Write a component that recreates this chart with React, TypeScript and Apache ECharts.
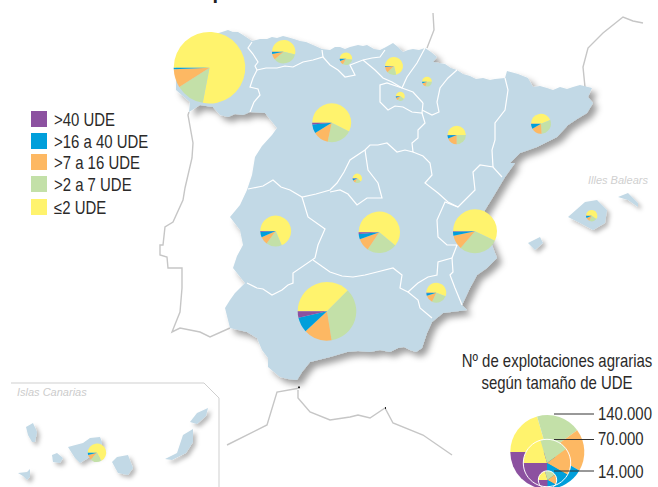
import React, { useEffect, useRef } from "react";
import * as echarts from "echarts";

const FONT = "'Liberation Sans', sans-serif";
const NARROW = 0.83;

const classNames = [">40 UDE", ">16 a 40 UDE", ">7 a 16 UDE", ">2 a 7 UDE", "≤2 UDE"];
const classColors = ["#8c51a0", "#009fdb", "#fdb863", "#c3e0a8", "#fff36d"];
const pieOrder = [4, 3, 2, 1, 0];
const legendRowsY = [111, 133, 154, 176, 199];

const regions = ["Galicia", "Asturias", "Cantabria", "País Vasco", "Navarra", "La Rioja", "Castilla y León", "Cataluña", "Aragón", "Madrid", "Extremadura", "Castilla-La Mancha", "C. Valenciana", "Illes Balears", "Murcia", "Andalucía", "Canarias"];
const upTo2 = [102200, 7560, 2150, 5880, 1220, 1240, 22370, 4490, 4330, 1400, 16640, 26720, 28200, 1980, 5710, 32900, 5800];
const from2To7 = [17000, 4900, 1220, 1410, 730, 500, 8090, 3060, 2160, 450, 3980, 10290, 14550, 726, 2650, 30700, 1730];
const from7To16 = [10900, 1120, 450, 830, 370, 230, 4980, 1790, 1640, 226, 2010, 4380, 5100, 363, 1330, 13700, 780];
const from16To40 = [800, 350, 200, 120, 110, 90, 2920, 820, 480, 158, 1410, 1840, 1500, 198, 410, 7290, 330];
const over40 = [100, 70, 40, 40, 10, 10, 540, 40, 40, 26, 210, 570, 150, 33, 100, 3160, 10];

const pieCenters = [[209.5, 67.7], [283.7, 51.7], [346, 58.7], [394, 66], [427, 81.7], [400.3, 96.3], [331.7, 122.7], [541, 123.7], [456.7, 135], [357.3, 178.3], [275.7, 231], [379.3, 232.3], [475, 231.3], [591.7, 215.7], [436.3, 292.7], [327, 311.3], [97, 452.7]];

const sizeLegendValues = [140000, 70000, 14000];
const sizeLegendLabels = ["140.000", "70.000", "14.000"];
const sizeLegendShares = [74, 70, 66, 60, 90];
const sizeLegendCenters = [[547.3, 452], [547, 463], [547.5, 480]];
const sizeLegendRadii = [37, 23.7, 9.2];
const sizeLegendLineY = [414, 439.5, 471];

const peninsula = [[190, 102], [176, 90], [176, 60], [190, 42], [222, 32], [228, 30], [233, 32], [238, 32], [243, 35], [252, 41], [260, 39], [267, 39], [272, 37], [277, 38], [283, 36], [287, 37], [294, 39], [300, 41], [306, 42], [313, 45], [322, 49], [330, 50], [335, 47], [340, 47], [345, 49], [350, 47], [358, 45], [363, 46], [367, 45], [374, 49], [380, 50], [386, 47], [393, 43], [398, 47], [403, 52], [408, 50], [413, 49], [419, 50], [425, 48], [431, 52], [437, 57], [433, 62], [445, 64], [451, 68], [457, 70], [463, 74], [470, 76], [476, 79], [483, 78], [490, 80], [495, 79], [505, 78], [507, 71], [518, 74], [528, 78], [533, 87], [540, 86], [547, 88], [553, 90], [560, 87], [567, 89], [573, 87], [580, 85], [592, 88], [588, 97], [593, 103], [587, 113], [577, 119], [568, 125], [557, 137], [547, 142], [537, 147], [520, 153], [510, 163], [515, 163], [505, 177], [493, 197], [485, 210], [480, 225], [490, 240], [497, 258], [487, 268], [477, 275], [470, 288], [462, 305], [467, 310], [443, 313], [432, 322], [427, 333], [422, 348], [416, 352], [410, 350], [404, 347], [398, 348], [390, 352], [380, 350], [370, 352], [358, 351], [347, 352], [330, 357], [310, 362], [302, 372], [297, 380], [288, 379], [280, 377], [268, 367], [268, 358], [262, 350], [257, 338], [247, 332], [230, 328], [225, 308], [230, 300], [235, 293], [245, 283], [233, 268], [237, 256], [243, 245], [240, 230], [230, 217], [240, 205], [247, 190], [252, 175], [255, 157], [262, 146], [272, 135], [277, 128], [265, 113], [250, 112], [243, 115], [235, 114], [228, 117], [220, 115], [213, 107], [200, 105], [189, 112]];

const islands = [
  [[568, 217], [585, 202], [597, 200], [607, 210], [605, 223], [593, 230], [580, 223]],
  [[618, 197], [628, 193], [638, 203], [638, 207], [628, 200]],
  [[528, 243], [540, 237], [543, 243], [535, 250]],
  [[26, 427], [33, 423], [37, 432], [35, 442], [32, 442], [28, 435]],
  [[52, 455], [57, 453], [63, 458], [60, 463], [53, 462]],
  [[18, 473], [27, 472], [30, 469], [30, 477], [27, 480], [23, 476]],
  [[68, 447], [83, 443], [90, 438], [100, 437], [102, 442], [100, 455], [88, 458], [80, 463], [75, 458]],
  [[112, 462], [117, 457], [128, 455], [133, 468], [128, 475], [118, 473]],
  [[165, 459], [177, 453], [183, 435], [193, 429], [193, 442], [186, 453], [172, 460]],
  [[190, 422], [197, 413], [208, 408], [206, 416], [197, 424]],
];

const borders = [
  [[252, 42], [248, 48], [253, 54], [258, 62], [255, 66], [257, 70], [253, 78], [250, 87], [258, 89], [260, 95], [254, 102], [250, 112]],
  [[257, 70], [266, 68], [277, 68], [285, 66], [293, 67], [303, 62], [313, 60], [323, 57], [330, 65], [338, 70], [345, 77], [355, 75], [350, 65], [363, 60], [372, 58], [380, 57], [385, 50]],
  [[323, 57], [322, 50]],
  [[363, 60], [375, 70], [383, 78], [392, 82], [402, 88], [413, 92], [423, 103]],
  [[425, 48], [417, 63], [407, 77], [402, 88]],
  [[402, 88], [387, 83], [380, 85], [380, 95], [380, 102], [388, 110], [395, 106], [403, 107], [412, 112], [422, 113], [423, 103]],
  [[457, 70], [448, 78], [440, 88], [437, 102], [439, 112], [432, 115], [422, 110]],
  [[422, 113], [425, 123], [418, 130], [418, 138], [412, 143], [413, 152], [405, 150], [397, 152], [387, 143], [378, 145], [370, 145], [365, 150], [350, 160], [344, 172], [337, 183], [330, 190], [316, 194], [302, 197], [290, 190], [281, 187], [273, 180], [263, 186], [253, 188], [248, 189]],
  [[365, 150], [368, 170], [378, 183], [382, 198], [367, 198], [357, 205], [348, 194], [340, 190], [330, 192]],
  [[302, 197], [308, 217], [325, 229], [318, 245], [315, 258], [293, 273], [293, 283], [288, 285], [282, 290], [272, 295], [263, 289], [257, 288], [247, 283]],
  [[313, 260], [330, 272], [342, 276], [353, 277], [365, 275], [377, 272], [393, 268], [402, 275], [400, 288], [408, 292], [418, 283], [428, 277], [437, 275], [438, 262], [452, 258], [453, 272], [450, 275], [455, 288], [462, 305]],
  [[408, 292], [418, 300], [420, 308], [432, 318]],
  [[452, 258], [457, 245], [447, 245], [438, 237], [437, 220], [445, 202], [458, 207], [475, 190], [473, 172], [480, 165], [493, 167], [502, 177]],
  [[413, 152], [423, 156], [430, 163], [432, 175], [425, 183], [438, 193], [448, 202], [458, 207]],
  [[505, 78], [508, 90], [505, 110], [495, 123], [495, 140], [492, 150], [493, 167]],
];

const grayLines = [
  [[189, 112], [188, 115], [193, 143], [192, 158], [185, 188], [183, 200], [173, 222], [165, 227], [163, 245], [160, 245], [160, 255], [167, 257], [168, 268], [182, 268], [182, 288], [180, 312], [172, 332], [180, 328], [200, 332], [210, 337], [230, 328]],
  [[433, 13], [434, 30], [427, 48]],
  [[585, 87], [583, 67], [588, 48], [603, 33], [623, 17], [633, 21], [643, 23]],
  [[300, 388], [277, 392], [267, 425], [227, 445]],
  [[298, 390], [298, 398], [310, 412], [330, 420], [350, 417], [358, 415], [370, 418], [385, 408], [393, 423], [423, 435], [452, 455]],
];
const canaryBox = [[11, 383], [204, 383], [219, 398], [219, 487]];

const LAND = "#c2d9e6";
const coastShadow = { shadowColor: "rgba(0,0,0,0.38)", shadowBlur: 6, shadowOffsetX: 5, shadowOffsetY: 5 };
const islandShadow = { shadowColor: "rgba(0,0,0,0.28)", shadowBlur: 4, shadowOffsetX: 3, shadowOffsetY: 3 };

function poly(points: number[][], shadow: object) {
  return { type: "polygon", silent: true, z: 1, shape: { points }, style: { fill: LAND, ...shadow } };
}
function line(points: number[][], stroke: string, lineWidth: number, z = 1) {
  return { type: "polyline", silent: true, z, shape: { points }, style: { stroke, lineWidth, fill: "none" } };
}
function label(text: string, x: number, y: number, font: string, fill: string, textAlign = "left", scaleX = 1) {
  return { type: "text", silent: true, z: 5, x, y, scaleX, style: { text, font, fill, textAlign, textVerticalAlign: "middle" } };
}

const seriesByClass = [over40, from16To40, from7To16, from2To7, upTo2];

function pieSeries(name: string, center: number[], radius: number, values: number[]) {
  return {
    type: "pie", name, silent: true, center, radius, startAngle: 180, clockwise: true,
    label: { show: false }, labelLine: { show: false }, z: 2,
    data: pieOrder.map((c, i) => ({ name: classNames[c], value: values[i], itemStyle: { color: classColors[c], borderWidth: 0 } })),
  };
}

export default function App() {
  const ref = useRef<HTMLDivElement>(null);
  useEffect(() => {
    document.body.style.margin = "0";
    document.body.style.overflow = "hidden";
    const chart = echarts.init(ref.current!, null, { renderer: "svg" });
    const mapSeries = regions.map((name, i) => {
      const values = pieOrder.map((c) => seriesByClass[c][i]);
      const total = values.reduce((a, b) => a + b, 0);
      return pieSeries(name, pieCenters[i], 37 * Math.sqrt(total / sizeLegendValues[0]), values);
    });
    const sizeSeries = sizeLegendValues.map((v, i) =>
      pieSeries(sizeLegendLabels[i], sizeLegendCenters[i], sizeLegendRadii[i], sizeLegendShares.map((s) => (s * v) / 360))
    );
    const body = `18px ${FONT}`;
    chart.setOption({
      animation: false,
      backgroundColor: "#ffffff",
      graphic: [
        ...grayLines.map((p) => line(p, "#c6c6c6", 1.4)),
        line(canaryBox, "#cfcfcf", 1),
        poly(peninsula, coastShadow),
        ...islands.map((p) => poly(p, islandShadow)),
        ...borders.map((p) => line(p, "#ffffff", 1.2)),
        { type: "rect", silent: true, z: 1, shape: { x: 298, y: 386.5, width: 2, height: 1.5 }, style: { fill: "#222" } },
        { type: "rect", silent: true, z: 1, shape: { x: 385, y: 407, width: 1, height: 2 }, style: { fill: "#222" } },
        ...classNames.map((n, i) => ({ type: "rect", silent: true, z: 5, shape: { x: 31, y: legendRowsY[i], width: 16, height: 16 }, style: { fill: classColors[i] } })),
        ...classNames.map((n, i) => label(n, 54, legendRowsY[i] + 9, body, "#2b2a29", "left", NARROW)),
        label("por tamaño de UDE. 2005", 333, -8.5, `bold 20px ${FONT}`, "#222222", "center"),
        label("Illes Balears", 588, 180, `italic 11px ${FONT}`, "#d0d0d0"),
        label("Islas Canarias", 17, 392, `italic 11px ${FONT}`, "#cccccc"),
        label("Nº de explotaciones agrarias", 557, 361, body, "#2b2a29", "center", NARROW),
        label("según tamaño de UDE", 557, 383, body, "#2b2a29", "center", NARROW),
        ...sizeLegendLabels.map((t, i) => label(t, 598, sizeLegendLineY[i] + (i === 2 ? 1 : 0), body, "#2b2a29", "left", NARROW)),
        ...sizeLegendLineY.map((y) => line([[554, y], [594, y]], "#333333", 1, 6)),
        ...[1, 2].map((i) => ({
          type: "circle", silent: true, z: 5,
          shape: { cx: sizeLegendCenters[i][0], cy: sizeLegendCenters[i][1], r: sizeLegendRadii[i] },
          style: { fill: "none", stroke: "#ffffff", lineWidth: 1 },
        })),
      ],
      series: [...mapSeries, ...sizeSeries],
    });
    return () => chart.dispose();
  }, []);
  return <div ref={ref} style={{ width: 658, height: 487 }} />;
}
